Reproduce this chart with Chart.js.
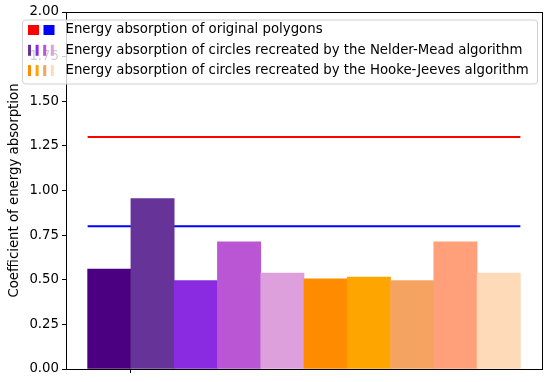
<!DOCTYPE html>
<html>
<head>
<meta charset="utf-8">
<script src="https://cdn.jsdelivr.net/npm/chart.js@4"></script>
<style>
  html, body { margin: 0; padding: 0; background: #fff; }
  #wrap { width: 550px; height: 382px; }
</style>
</head>
<body>
<div id="wrap"><canvas id="chart" width="550" height="382"></canvas></div>
<script>
// bars: 5 Nelder-Mead circles then 5 Hooke-Jeeves circles
const barLabels = ['NM 1', 'NM 2', 'NM 3', 'NM 4', 'NM 5', 'HJ 1', 'HJ 2', 'HJ 3', 'HJ 4', 'HJ 5'];
const barValues = [0.56, 0.955, 0.495, 0.712, 0.538, 0.505, 0.515, 0.495, 0.712, 0.538];
const barColors = ['#4B0082', '#663399', '#8A2BE2', '#BA55D3', '#DDA0DD',
                   '#FF8C00', '#FFA500', '#F4A460', '#FFA07A', '#FFDAB9'];

// reference values of the original polygons
const polygonLevels = [1.3, 0.8];
const polygonColors = ['#ff0000', '#0000ff'];

const yTicks = [0, 0.25, 0.5, 0.75, 1.0, 1.25, 1.5, 1.75, 2.0];

const legendRows = [
    { text: 'Energy absorption of original polygons', kind: 'square', colors: polygonColors },
    { text: 'Energy absorption of circles recreated by the Nelder-Mead algorithm', kind: 'dash', colors: barColors.slice(1, 5) },
    { text: 'Energy absorption of circles recreated by the Hooke-Jeeves algorithm', kind: 'dash', colors: [barColors[5], barColors[6], barColors[7], barColors[9]] }
];

const FONT = "'DejaVu Sans', sans-serif";
const FSIZE = 13.3;

document.addEventListener('DOMContentLoaded', function() {
    const ctx = document.getElementById('chart').getContext('2d');

    const barData = barValues.map((v, i) => ({ x: i, y: v }));
    const lineDatasets = polygonLevels.map((lvl, i) => ({
        type: 'line',
        data: [{ x: -0.5, y: lvl }, { x: barValues.length - 0.5, y: lvl }],
        borderColor: polygonColors[i],
        borderWidth: 2,
        pointRadius: 0,
        fill: false
    }));

    // box around the plot + the legend box
    const framePlugin = {
        id: 'frame',
        afterDraw(chart) {
            const c = chart.ctx;
            const a = chart.chartArea;
            c.save();
            c.strokeStyle = '#000';
            c.lineWidth = 1;
            c.strokeRect(a.left + 0.5, a.top + 0.5, a.right - a.left, a.bottom - a.top);

            // legend
            const bx = 22, by = 19.5, bw = 515, bh = 64;
            c.beginPath();
            c.roundRect(bx + 0.5, by + 0.5, bw, bh, 3);
            c.fillStyle = 'rgba(255,255,255,0.8)';
            c.fill();
            c.strokeStyle = '#d0d0d0';
            c.stroke();

            c.font = FSIZE + 'px ' + FONT;
            c.textBaseline = 'middle';
            legendRows.forEach((row, r) => {
                const cy = 30 + r * 20.3;
                if (row.kind === 'square') {
                    row.colors.forEach((col, k) => {
                        c.fillStyle = col;
                        c.fillRect(28 + k * 15.5, cy - 5, 11, 10);
                    });
                } else {
                    row.colors.forEach((col, k) => {
                        c.fillStyle = col;
                        c.fillRect(28 + k * 7.6, cy - 5.5, 3, 11);
                    });
                }
                c.fillStyle = '#000';
                c.fillText(row.text, 65.5, cy);
            });
            c.restore();
        }
    };

    new Chart(ctx, {
        type: 'bar',
        data: {
            datasets: [{
                label: 'bars',
                data: barData,
                backgroundColor: barColors,
                borderWidth: 0,
                barPercentage: 1,
                categoryPercentage: 1
            }, ...lineDatasets]
        },
        options: {
            responsive: false,
            animation: false,
            events: [],
            layout: { padding: { left: 0, top: 12, right: 8, bottom: 0 } },
            plugins: {
                legend: { display: false },
                tooltip: { enabled: false }
            },
            scales: {
                x: {
                    type: 'linear',
                    min: -1,
                    max: barValues.length,
                    offset: false,
                    afterBuildTicks: axis => { axis.ticks = [{ value: 0.5 }]; },
                    afterFit: axis => { axis.height = 13; },
                    ticks: { callback: () => '' },
                    grid: { drawOnChartArea: false, drawTicks: true, tickLength: 4, color: '#000', offset: false },
                    border: { color: '#000' }
                },
                y: {
                    min: 0,
                    max: 2,
                    afterBuildTicks: axis => { axis.ticks = yTicks.map(v => ({ value: v })); },
                    afterFit: axis => { axis.width = 66; },
                    ticks: {
                        color: '#000',
                        padding: 3,
                        font: { family: FONT, size: FSIZE },
                        callback: v => v.toFixed(2)
                    },
                    grid: { drawOnChartArea: false, drawTicks: true, tickLength: 4, color: '#000' },
                    border: { color: '#000' },
                    title: {
                        display: true,
                        text: 'Coefficient of energy absorption',
                        color: '#000',
                        font: { family: FONT, size: FSIZE },
                        padding: { top: 7, bottom: 0 }
                    }
                }
            }
        },
        plugins: [framePlugin]
    });
});
</script>
</body>
</html>
